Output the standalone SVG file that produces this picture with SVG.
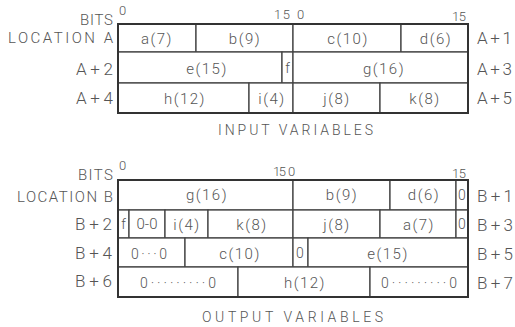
<svg xmlns="http://www.w3.org/2000/svg" width="515" height="327" viewBox="0 0 515 327">
<style>
text{font-family:Roboto,"Liberation Sans",sans-serif;font-weight:300;fill:#555}
.c{font-size:15px;letter-spacing:1.5px;text-anchor:middle}
.n{font-size:14px;text-anchor:middle}
.l{font-size:15px;text-anchor:end}
.r{font-size:17px}
.b{font-size:13px}
.t{font-size:14px}
rect.cell{fill:#fff;stroke:#444;stroke-width:1.3}
rect.outer{fill:none;stroke:#333;stroke-width:2}
</style>
<rect width="515" height="327" fill="#fff"/>
<g id="input-labels">
<text class="l" x="113" y="25" textLength="33" lengthAdjust="spacing">BITS</text>
<text class="b" x="119" y="15">0</text>
<text class="b" x="274" y="19" textLength="16" lengthAdjust="spacing">15</text>
<text class="b" x="297" y="19">0</text>
<text class="b" x="452" y="21" textLength="14" lengthAdjust="spacing">15</text>
<text class="l" x="113" y="43" textLength="105" lengthAdjust="spacing">LOCATION A</text>
<text class="l r" x="113" y="75" textLength="37" lengthAdjust="spacing">A + 2</text>
<text class="l r" x="113" y="104" textLength="37" lengthAdjust="spacing">A + 4</text>
<text class="r" x="477" y="44" textLength="35" lengthAdjust="spacing">A + 1</text>
<text class="r" x="477" y="75" textLength="35" lengthAdjust="spacing">A + 3</text>
<text class="r" x="477" y="104" textLength="35" lengthAdjust="spacing">A + 5</text>
<text class="t" x="218" y="135" textLength="155" lengthAdjust="spacing">INPUT VARIABLES</text>
</g>
<g id="in-a"><rect class="cell" x="118" y="24" width="78" height="28"/><text class="c" x="157" y="44">a(7)</text></g>
<g id="in-b"><rect class="cell" x="196" y="24" width="97" height="28"/><text class="c" x="245" y="44">b(9)</text></g>
<g id="in-c"><rect class="cell" x="293" y="24" width="108" height="28"/><text class="c" x="348" y="44">c(10)</text></g>
<g id="in-d"><rect class="cell" x="401" y="24" width="67" height="28"/><text class="c" x="436" y="44">d(6)</text></g>
<g id="in-e"><rect class="cell" x="118" y="52" width="164" height="31"/><text class="c" x="207" y="74">e(15)</text></g>
<g id="in-f"><rect class="cell" x="282" y="52" width="11" height="31"/><text class="n" x="287.5" y="73">f</text></g>
<g id="in-g"><rect class="cell" x="293" y="52" width="175" height="31"/><text class="c" x="384" y="74">g(16)</text></g>
<g id="in-h"><rect class="cell" x="118" y="83" width="131" height="30"/><text class="c" x="185" y="104">h(12)</text></g>
<g id="in-i"><rect class="cell" x="249" y="83" width="44" height="30"/><text class="c" x="272" y="104">i(4)</text></g>
<g id="in-j"><rect class="cell" x="293" y="83" width="87" height="30"/><text class="c" x="337" y="104">j(8)</text></g>
<g id="in-k"><rect class="cell" x="380" y="83" width="88" height="30"/><text class="c" x="425" y="104">k(8)</text></g>
<g id="output-labels">
<text class="l" x="113" y="180" textLength="35" lengthAdjust="spacing">BITS</text>
<text class="b" x="119" y="170">0</text>
<text class="b" x="273" y="176" textLength="13" lengthAdjust="spacing">15</text>
<text class="b" x="288" y="176">0</text>
<text class="b" x="452" y="178" textLength="14" lengthAdjust="spacing">15</text>
<text class="l" x="113" y="202" textLength="96" lengthAdjust="spacing">LOCATION B</text>
<text class="l r" x="112" y="230" textLength="37" lengthAdjust="spacing">B + 2</text>
<text class="l r" x="112" y="259" textLength="37" lengthAdjust="spacing">B + 4</text>
<text class="l r" x="112" y="287" textLength="37" lengthAdjust="spacing">B + 6</text>
<text class="r" x="477" y="202" textLength="36" lengthAdjust="spacing">B + 1</text>
<text class="r" x="477" y="231" textLength="36" lengthAdjust="spacing">B + 3</text>
<text class="r" x="477" y="260" textLength="36" lengthAdjust="spacing">B + 5</text>
<text class="r" x="477" y="289" textLength="36" lengthAdjust="spacing">B + 7</text>
<text class="t" x="202" y="322" textLength="181" lengthAdjust="spacing">OUTPUT VARIABLES</text>
</g>
<g id="out-g"><rect class="cell" x="118" y="180" width="175" height="30"/><text class="c" x="207" y="200">g(16)</text></g>
<g id="out-b"><rect class="cell" x="293" y="180" width="97" height="30"/><text class="c" x="342" y="200">b(9)</text></g>
<g id="out-d"><rect class="cell" x="390" y="180" width="66" height="30"/><text class="c" x="424" y="200">d(6)</text></g>
<g id="out-z1"><rect class="cell" x="456" y="180" width="12" height="30"/><text class="n" x="462" y="200">0</text></g>
<g id="out-f"><rect class="cell" x="118" y="210" width="11" height="28"/><text class="n" x="123.5" y="229">f</text></g>
<g id="out-z2"><rect class="cell" x="129" y="210" width="36" height="28"/><text class="n" x="147" y="229" style="font-size:15px">0-0</text></g>
<g id="out-i"><rect class="cell" x="165" y="210" width="43" height="28"/><text class="c" x="187" y="230">i(4)</text></g>
<g id="out-k"><rect class="cell" x="208" y="210" width="85" height="28"/><text class="c" x="252" y="230">k(8)</text></g>
<g id="out-j"><rect class="cell" x="293" y="210" width="87" height="28"/><text class="c" x="337" y="230">j(8)</text></g>
<g id="out-a"><rect class="cell" x="380" y="210" width="76" height="28"/><text class="c" x="419" y="230">a(7)</text></g>
<g id="out-z3"><rect class="cell" x="456" y="210" width="12" height="28"/><text class="n" x="462" y="229">0</text></g>
<g id="out-z4"><rect class="cell" x="118" y="238" width="67" height="29"/><text class="n" x="149" y="259" textLength="36" lengthAdjust="spacing">0···0</text></g>
<g id="out-c"><rect class="cell" x="185" y="238" width="108" height="29"/><text class="c" x="240" y="259">c(10)</text></g>
<g id="out-z5"><rect class="cell" x="293" y="238" width="15" height="29"/><text class="n" x="300" y="258">0</text></g>
<g id="out-e"><rect class="cell" x="308" y="238" width="160" height="29"/><text class="c" x="388" y="259">e(15)</text></g>
<g id="out-z6"><rect class="cell" x="118" y="267" width="120" height="30"/><text class="n" x="178" y="288" textLength="76" lengthAdjust="spacing">0·········0</text></g>
<g id="out-h"><rect class="cell" x="238" y="267" width="132" height="30"/><text class="c" x="305" y="288">h(12)</text></g>
<g id="out-z7"><rect class="cell" x="370" y="267" width="98" height="30"/><text class="n" x="419" y="288" textLength="76" lengthAdjust="spacing">0·········0</text></g>
<g id="connectors"><rect class="outer" x="118" y="24" width="350" height="89"/><rect class="outer" x="118" y="180" width="350" height="117"/></g>
</svg>
